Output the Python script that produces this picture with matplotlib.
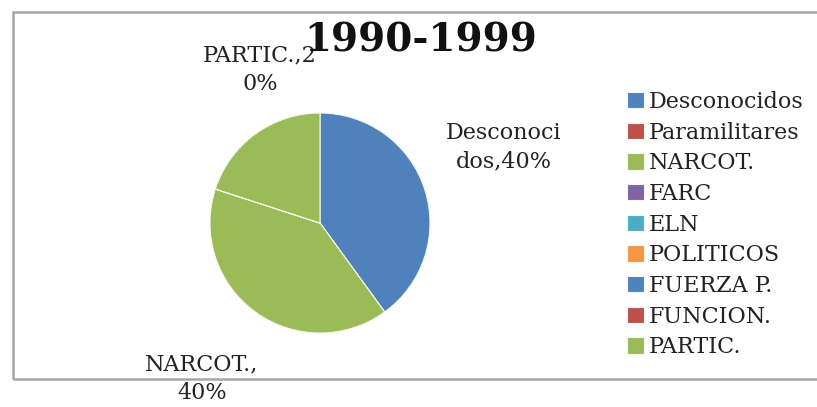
import matplotlib.pyplot as plt
from matplotlib.patches import Rectangle

TITLE = '1990-1999'
CATEGORIES = ['Desconocidos', 'Paramilitares', 'NARCOT.', 'FARC', 'ELN',
              'POLITICOS', 'FUERZA P.', 'FUNCION.', 'PARTIC.']
VALUES = [40, 0, 40, 0, 0, 0, 0, 0, 20]
COLORS = ['#4F81BD', '#C0504D', '#9BBB59', '#8064A2', '#4BACC6',
          '#F79646', '#4F81BD', '#C0504D', '#9BBB59']
# data labels as Excel wrapped them
LABEL_TEXT = {
    'Desconocidos': 'Desconoci\ndos,40%',
    'NARCOT.': 'NARCOT.,\n40%',
    'PARTIC.': 'PARTIC.,2\n0%',
}
LABEL_POS = {
    'Desconocidos': (504, 147),
    'NARCOT.': (202, 379),
    'PARTIC.': (260, 70),
}

W, H = 817, 407
TEXT_COLOR = '#222222'
FONT = 'DejaVu Serif'


def px(x, y):
    return x / W, 1 - y / H


def main():
    fig = plt.figure(figsize=(W / 100, H / 100), dpi=100)

    # chart area border (right edge runs off the picture)
    x0, y0 = px(13, 379)
    fig.patches.append(Rectangle((x0, y0), 1.2, (379 - 12) / H,
                                 transform=fig.transFigure, fill=False,
                                 edgecolor='#A6A6A6', linewidth=1.8,
                                 clip_on=False))

    cx, cy, r = 320, 223, 110
    ax = fig.add_axes([(cx - r) / W, (H - cy - r) / H, 2 * r / W, 2 * r / H])
    wedges, _ = ax.pie(VALUES, colors=COLORS, startangle=90, counterclock=False,
                       wedgeprops=dict(edgecolor='#F4F8E8', linewidth=0.8))
    ax.set_xlim(-1, 1)
    ax.set_ylim(-1, 1)
    ax.set_aspect('equal')
    ax.axis('off')

    for cat, val in zip(CATEGORIES, VALUES):
        if val == 0 or cat not in LABEL_TEXT:
            continue
        fx, fy = px(*LABEL_POS[cat])
        fig.text(fx, fy, LABEL_TEXT[cat], ha='center', va='center',
                 fontsize=16, family=FONT, color=TEXT_COLOR, linespacing=1.4)

    tx, ty = px(421, 40)
    fig.text(tx, ty, TITLE, ha='center', va='center', fontsize=28,
             fontweight='bold', family=FONT, color='#111111')

    lx, ly = px(627, 91)
    leg = fig.legend(wedges, CATEGORIES, loc='upper left',
                     bbox_to_anchor=(lx, ly), frameon=False,
                     prop=dict(family=FONT, size=16),
                     handlelength=0.75, handleheight=0.75,
                     handletextpad=0.25, labelspacing=0.39,
                     borderpad=0, borderaxespad=0)
    for t in leg.get_texts():
        t.set_color(TEXT_COLOR)

    fig.savefig('out.png', dpi=100)


if __name__ == '__main__':
    main()
